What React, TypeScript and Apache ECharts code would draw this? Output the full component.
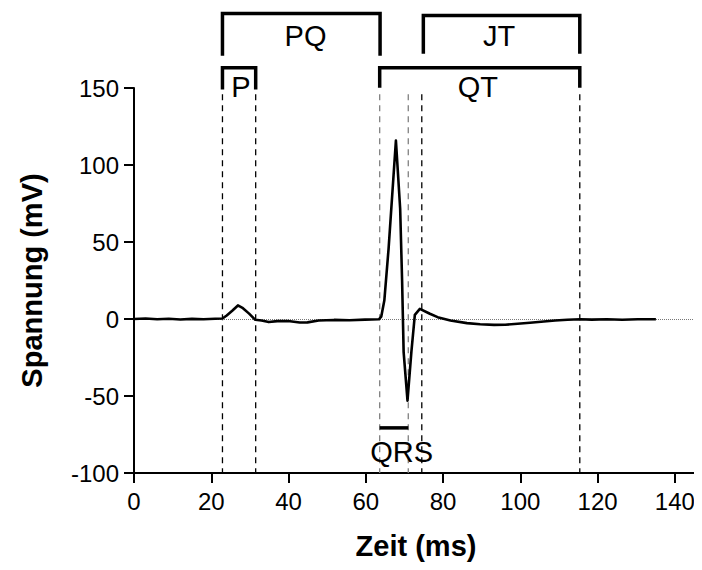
import React, { useEffect, useRef } from "react";
import * as echarts from "echarts";

// ECG trace (time in ms, voltage in mV)
const timeMs = [0, 3, 6, 9, 12, 15, 18, 21, 22.9, 24, 25.5, 26.9, 28.2, 29.8, 31.4, 33, 34.9, 37.1, 39.9, 42.9, 44.9, 47.8, 51.8, 55.8, 59.8, 63.4, 64.0, 64.8, 65.9, 67.8, 68.9, 69.4, 69.8, 70.8, 71.8, 72.7, 74.0, 76.6, 78.6, 81.9, 86.2, 89.6, 93.2, 96.1, 99.3, 102.5, 106.1, 109.0, 112.2, 115.5, 118.5, 122.4, 126.4, 130.4, 135.1];
const voltage = [0, 0.3, -0.2, 0.2, -0.3, 0.1, -0.2, 0.2, 0.3, 2.3, 5.5, 8.8, 7, 3.5, -0.5, -1, -2, -1.4, -1.3, -2.3, -2.2, -1, -0.6, -0.8, -0.4, -0.2, 1.5, 12, 45.6, 115.9, 71.6, 25, -21.5, -53, -21.5, 2.7, 6.6, 3.4, 1.2, -1, -2.7, -3.4, -3.8, -3.7, -3.1, -2.4, -1.6, -1, -0.5, -0.2, -0.4, -0.2, -0.5, -0.2, -0.2];

// Marker times (dashed vertical lines)
const markerTimes = [22.9, 31.5, 63.6, 71.0, 74.5, 115.4];

// Intervals (brackets)
const intervalNames = ["PQ", "P", "JT", "QT", "QRS"];
const intervalStart = [22.9, 22.9, 74.9, 63.6, 63.6];
const intervalEnd = [63.7, 31.5, 115.4, 115.4, 71.0];

// Axis ticks
const xTicks = [0, 20, 40, 60, 80, 100, 120, 140];

// Layout for annotations (data-space positions of bracket lines and labels)
const bracketLayout = [
  { top: 198.4, leg: 171, lx: 44.4, ly: 184 },
  { top: 163.2, leg: 149, lx: 27.7, ly: 150.5 },
  { top: 197, leg: 172.3, lx: 94.5, ly: 184 },
  { top: 163.2, leg: 150.2, lx: 89.0, ly: 150.5 },
  { top: -70.7, leg: -70.7, lx: 69.3, ly: -86.6 },
];
const markerColors = ["#000", "#000", "#808080", "#808080", "#000", "#000"];
const FONT = "'Liberation Sans', Arial, Helvetica, sans-serif";

export default function App() {
  const ref = useRef<HTMLDivElement>(null);
  useEffect(() => {
    if (!ref.current) return;
    const chart = echarts.init(ref.current, null, { renderer: "svg" });

    const series: any[] = [];

    // dashed marker lines
    markerTimes.forEach((t, i) => {
      series.push({
        type: "line",
        data: [[t, 146], [t, -100]],
        symbol: "none",
        clip: false,
        silent: true,
        lineStyle: { color: markerColors[i], width: 1.3, type: [6, 5] },
        z: 1,
      });
    });

    // brackets
    intervalNames.forEach((name, i) => {
      const b = bracketLayout[i];
      const s = intervalStart[i];
      const e = intervalEnd[i];
      const pts = b.top === b.leg
        ? [[s, b.top], [e, b.top]]
        : [[s, b.leg], [s, b.top], [e, b.top], [e, b.leg]];
      series.push({
        type: "line",
        data: pts,
        symbol: "none",
        clip: false,
        silent: true,
        lineStyle: { color: "#000", width: 3.5, join: "miter", cap: "butt" },
        z: 3,
      });
    });

    // labels
    series.push({
      type: "custom",
      clip: false,
      silent: true,
      data: intervalNames.map((name, i) => [bracketLayout[i].lx, bracketLayout[i].ly, i]),
      renderItem: (params: any, api: any) => {
        const pt = api.coord([api.value(0), api.value(1)]);
        const idx = api.value(2);
        return {
          type: "text",
          x: pt[0],
          y: pt[1],
          style: {
            text: intervalNames[idx],
            fill: "#000",
            font: `29px ${FONT}`,
            align: "center",
            verticalAlign: "middle",
          },
        };
      },
      z: 4,
    });

    // ECG trace with zero line
    series.push({
      type: "line",
      data: timeMs.map((t, i) => [t, voltage[i]]),
      symbol: "none",
      lineStyle: { color: "#000", width: 2.6, join: "round" },
      z: 5,
      markLine: {
        silent: true,
        symbol: "none",
        label: { show: false },
        lineStyle: { color: "#777", width: 1, type: "dotted" },
        data: [{ yAxis: 0 }],
        z: 2,
      },
    });

    chart.setOption({
      animation: false,
      backgroundColor: "#fff",
      grid: { left: 134, right: 4, top: 88, bottom: 97 },
      xAxis: {
        type: "value",
        min: 0,
        max: 146,
        name: "Zeit (ms)",
        nameLocation: "middle",
        nameGap: 58,
        nameTextStyle: { color: "#000", fontFamily: FONT, fontSize: 29, fontWeight: "bold" },
        axisLine: { onZero: false, lineStyle: { color: "#000", width: 2 } },
        axisTick: { show: true, length: 10, customValues: xTicks, lineStyle: { color: "#000", width: 2 } },
        axisLabel: { customValues: xTicks, margin: 16, color: "#000", fontFamily: FONT, fontSize: 24 },
        splitLine: { show: false },
      },
      yAxis: {
        type: "value",
        min: -100,
        max: 150,
        interval: 50,
        name: "Spannung (mV)",
        nameLocation: "middle",
        nameRotate: 90,
        nameGap: 88,
        nameTextStyle: { color: "#000", fontFamily: FONT, fontSize: 29, fontWeight: "bold" },
        axisLine: { show: true, onZero: false, lineStyle: { color: "#000", width: 2 } },
        axisTick: { show: true, length: 10, lineStyle: { color: "#000", width: 2 } },
        axisLabel: { margin: 15, color: "#000", fontFamily: FONT, fontSize: 24 },
        splitLine: { show: false },
      },
      series,
    });

    return () => chart.dispose();
  }, []);

  return <div ref={ref} style={{ width: 702, height: 570, margin: -8 }} />;
}
